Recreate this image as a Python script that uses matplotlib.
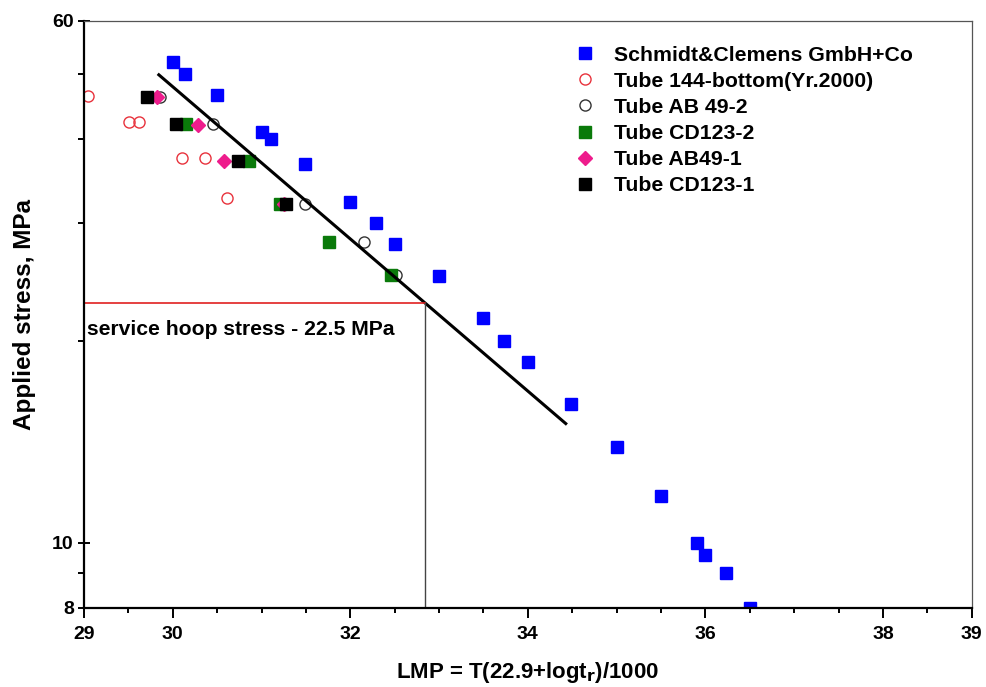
import matplotlib
matplotlib.use("Agg")
import matplotlib.pyplot as plt
from matplotlib.ticker import FixedLocator, NullFormatter, FixedFormatter

# ---- data ----
sc_x = [30.0, 30.14, 30.5, 31.0, 31.11, 31.49, 32.0, 32.29, 32.5, 33.0, 33.5,
        33.73, 34.0, 34.49, 35.0, 35.5, 35.91, 36.0, 36.23, 36.5]
sc_y = [52.0, 50.0, 46.5, 41.0, 40.0, 36.7, 32.2, 30.0, 27.9, 25.0, 21.6,
        20.0, 18.6, 16.1, 13.9, 11.75, 10.0, 9.6, 9.0, 8.0]

t144_x = [29.04, 29.51, 29.62, 30.1, 30.36, 30.61]
t144_y = [46.3, 42.4, 42.4, 37.5, 37.5, 32.6]

ab492_x = [29.86, 30.45, 31.49, 32.15, 32.52]
ab492_y = [46.1, 42.1, 32.0, 28.1, 25.1]

cd1232_x = [30.15, 30.86, 31.21, 31.76, 32.46]
cd1232_y = [42.1, 37.1, 32.0, 28.1, 25.1]

ab491_x = [29.82, 30.28, 30.58, 31.25]
ab491_y = [46.1, 42.0, 37.1, 32.0]

cd1231_x = [29.71, 30.04, 30.74, 31.28]
cd1231_y = [46.1, 42.1, 37.1, 32.0]

fit_x = [29.83, 34.44]
fit_y = [50.0, 15.0]

hoop_stress = 22.8
hoop_lmp = 32.84

x_major = [29, 30, 32, 34, 36, 38, 39]
x_minor = [29.5, 30.5, 31, 31.5, 32.5, 33, 33.5, 34.5, 35, 35.5, 36.5, 37, 37.5, 38.5]
y_major = [8, 10, 60]
y_minor = [9, 20, 30, 40, 50]

labels = ["Schmidt&Clemens GmbH+Co", "Tube 144-bottom(Yr.2000)", "Tube AB 49-2",
          "Tube CD123-2", "Tube AB49-1", "Tube CD123-1"]

# ---- figure ----
W, H = 987, 687
fig = plt.figure(figsize=(W / 100, H / 100), dpi=100)
ax = fig.add_axes([84 / W, 1 - 607.7 / H, (971.7 - 84) / W, (607.7 - 20.7) / H])
ax.set_yscale("log")
ax.set_xlim(29, 39)
ax.set_ylim(8, 60)

font = ["Liberation Sans", "DejaVu Sans"]

ms = 8
ax.plot(sc_x, sc_y, ls="none", marker="s", ms=ms, mfc="#0000ff", mec="#0000ff", label=labels[0])
ax.plot(t144_x, t144_y, ls="none", marker="o", ms=ms, mfc="none", mec="#e8323c", mew=1.0, label=labels[1])
ax.plot(ab492_x, ab492_y, ls="none", marker="o", ms=ms, mfc="none", mec="#333333", mew=1.0, label=labels[2])
ax.plot(cd1232_x, cd1232_y, ls="none", marker="s", ms=ms, mfc="#0a7a0a", mec="#0a7a0a", label=labels[3])
ax.plot(ab491_x, ab491_y, ls="none", marker="D", ms=7.5, mfc="#ee1c8c", mec="#ee1c8c", label=labels[4])
ax.plot(cd1231_x, cd1231_y, ls="none", marker="s", ms=ms, mfc="#000000", mec="#000000", label=labels[5])

ax.plot(fit_x, fit_y, color="black", lw=2.2, solid_capstyle="butt")
ax.plot([29, hoop_lmp], [hoop_stress, hoop_stress], color="#e02020", lw=1.2)
ax.plot([hoop_lmp, hoop_lmp], [8, hoop_stress], color="#444444", lw=1.0)

ax.text(29.03, 20.8, "service hoop stress - 22.5 MPa", fontsize=15.2, fontweight="bold",
        family=font, va="center", ha="left")

# ticks
ax.xaxis.set_major_locator(FixedLocator(x_major))
ax.xaxis.set_minor_locator(FixedLocator(x_minor))
ax.xaxis.set_major_formatter(FixedFormatter([str(v) for v in x_major]))
ax.xaxis.set_minor_formatter(NullFormatter())
ax.yaxis.set_major_locator(FixedLocator(y_major))
ax.yaxis.set_minor_locator(FixedLocator(y_minor))
ax.yaxis.set_major_formatter(FixedFormatter([str(v) for v in y_major]))
ax.yaxis.set_minor_formatter(NullFormatter())

ax.tick_params(axis="x", which="major", direction="out", length=7.2, width=1.4, pad=6, labelsize=14)
ax.tick_params(axis="x", which="minor", direction="out", length=3.6, width=1.4)
ax.tick_params(axis="y", which="major", direction="inout", length=8.6, width=1.4, pad=3, labelsize=14)
ax.tick_params(axis="y", which="minor", direction="out", length=4.3, width=1.4)
for lab in ax.get_xticklabels() + ax.get_yticklabels():
    lab.set_fontweight("bold")
    lab.set_family(font)

for s in ["left", "bottom"]:
    ax.spines[s].set_linewidth(1.6)
    ax.spines[s].set_color("black")
for s in ["top", "right"]:
    ax.spines[s].set_linewidth(0.9)
    ax.spines[s].set_color("#555555")

ax.set_xlabel(r"LMP = T(22.9+logt$_\mathbf{r}$)/1000", fontsize=16, fontweight="bold",
              family=font, labelpad=12)
ax.set_ylabel("Applied stress, MPa", fontsize=17.5, fontweight="bold", family=font, labelpad=12)

fs_leg = 15.3
leg = ax.legend(loc="upper left", bbox_to_anchor=(574.4 / W, 1 - 45.6 / H),
                bbox_transform=fig.transFigure, frameon=False, borderpad=0,
                borderaxespad=0, handlelength=1.0, handletextpad=0.87,
                labelspacing=0.335, prop={"family": font, "weight": "bold", "size": fs_leg})

fig.savefig("out.png", dpi=100)
